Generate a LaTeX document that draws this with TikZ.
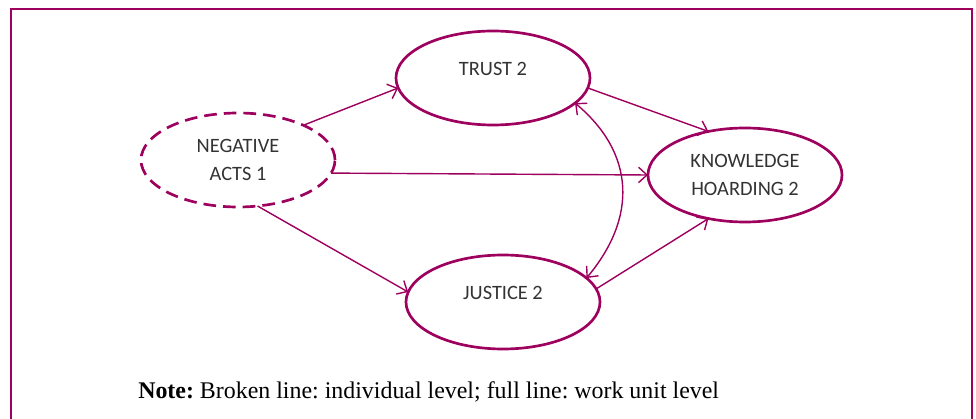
\documentclass[tikz,border=0pt]{standalone}
\usepackage{fontspec}
\setmainfont{Liberation Serif}
\newfontfamily\boxfont{Carlito}
\usepackage{xcolor}
\usepackage{tikz}
\usetikzlibrary{arrows.meta}
\usetikzlibrary{shapes.geometric}

\definecolor{plum}{RGB}{158,0,94}
\frenchspacing

\begin{document}
\begin{tikzpicture}[
        oval/.style={ellipse, draw=plum, line width=1.9pt, minimum width=4.85cm, minimum height=2.35cm, inner sep=0pt, outer sep=0pt, align=center, text=black!80, font=\fontsize{14.5}{20}\boxfont},
        broken/.style={oval, dash pattern=on 9pt off 5pt},
        arrow/.style={-{Straight Barb[length=6pt, width=11pt]}, line width=1pt, plum},
        twoway/.style={{Straight Barb[length=6pt, width=11pt]}-{Straight Barb[length=6pt, width=11pt]}, line width=1pt, plum}
      ]
        \useasboundingbox (0,0) rectangle (24.4,10.45);
        \draw[plum, line width=1.4pt] (0.275,-1) rectangle (24.3,10.225);
        \node[broken] (neg) at (5.95,6.45) {NEGATIVE\\ACTS 1};
        \node[oval] (trust) at (12.325,8.5) {\raisebox{0.45cm}{TRUST 2}};
        \node[oval] (justice) at (12.575,2.9) {\raisebox{0.45cm}{JUSTICE 2}};
        \node[oval] (hoard) at (18.625,6.075) {KNOWLEDGE\\HOARDING 2};
        \draw[arrow] (neg.28) -- (trust.186);
        \draw[arrow] (neg.-8) -- (hoard.180);
        \draw[arrow] (neg.-67) -- (justice.174);
        \draw[arrow] (trust.-6) -- (hoard.130);
        \draw[arrow] (justice.8) -- (hoard.-130);
        \draw[twoway] (trust.-17) to[out=-40, in=50, looseness=1.15] (justice.16);
        \node[anchor=west, inner sep=0pt, font=\fontsize{17}{20}\selectfont] (note) at (3.45,0.65) {\textbf{Note:} Broken line: individual level; full line: work unit level};
      \end{tikzpicture}
\end{document}
